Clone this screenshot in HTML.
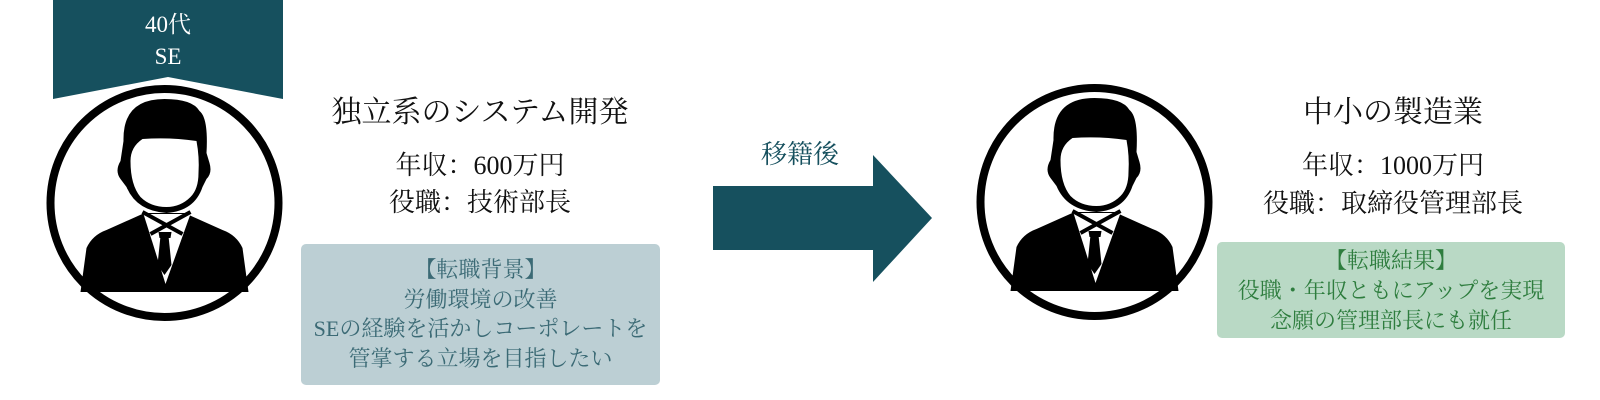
<!DOCTYPE html>
<html><head><meta charset="utf-8"><style>
body{margin:0;width:1600px;height:400px;background:#fff;overflow:hidden;position:relative;font-family:"Liberation Serif","Noto Serif CJK SC",serif}
.t{position:absolute;text-align:center;white-space:nowrap;color:#111}
</style></head><body>
<svg width="1600" height="400" style="position:absolute;left:0;top:0">
<defs>
<g id="p">
<circle r="114" fill="#fff" stroke="#000" stroke-width="8"/>
<path d="M-84,89 L-78,45 Q-72,32 -58,27 L-20,10 L20,10 L58,27 Q72,32 78,45 L84,89 Z" fill="#000"/>
<path d="M-21,11 L26,11 L1,81 Z" fill="#fff"/>
<path d="M-4,33 L4,33 L7,62 L0,72 L-7,62 Z" fill="#000"/>
<path d="M-22,9 L18,31 M26,9 L-14,31" stroke="#000" stroke-width="4"/>
<path d="M-6,29 L7,29 L6,35 L-5,35 Z" fill="#000"/>
<path d="M-41,-62 Q-42,-104 0,-104 Q28,-104 35,-92 Q44,-85 42,-50 L45,-40 Q48,-30 42,-24 L38,-16 Q30,8 2,10 Q-28,8 -38,-16 L-44,-24 Q-50,-32 -44,-42 Z" fill="#000"/>
<path d="M-34,-42 Q-34,-56 -22,-64 Q5,-66 32,-62 Q35,-46 34,-30 Q34,-14 26,-6 Q16,4 2,4 Q-14,4 -24,-6 Q-34,-18 -34,-42 Z" fill="#fff"/>
</g>
</defs>
<polygon points="53,0 283,0 283,99 168,77 53,99" fill="#16505e"/>
<use href="#p" x="164.5" y="203"/>
<use href="#p" x="1094.5" y="202"/>
<polygon points="713,186 873,186 873,155 932,218 873,282 873,250 713,250" fill="#16505e"/>
<rect x="301" y="244" width="359" height="141" rx="5" fill="#bccfd4"/>
<rect x="1217" y="242" width="348" height="96" rx="5" fill="#b9d9c5"/>
</svg>
<div class="t" style="left:53px;width:230px;top:9px;color:#fff;font-size:23px;line-height:32px">40代<br>SE</div>
<div class="t" style="left:330px;width:300px;top:94px;font-size:30px;line-height:38px">独立系のシステム開発</div>
<div class="t" style="left:330px;width:300px;top:147px;font-size:26px;line-height:37px">年収：600万円<br>役職：技術部長</div>
<div class="t" style="left:301px;width:359px;top:255px;font-size:22px;line-height:29.5px;color:#3b6a75">【転職背景】<br>労働環境の改善<br>SEの経験を活かしコーポレートを<br>管掌する立場を目指したい</div>
<div class="t" style="left:740px;width:120px;top:139px;font-size:26px;line-height:32px;color:#16505e">移籍後</div>
<div class="t" style="left:1243px;width:300px;top:94px;font-size:30px;line-height:38px">中小の製造業</div>
<div class="t" style="left:1243px;width:300px;top:147px;font-size:26px;line-height:38px">年収：1000万円<br>役職：取締役管理部長</div>
<div class="t" style="left:1217px;width:348px;top:246px;font-size:22px;line-height:30px;color:#2e7d3e">【転職結果】<br>役職・年収ともにアップを実現<br>念願の管理部長にも就任</div>
</body></html>
